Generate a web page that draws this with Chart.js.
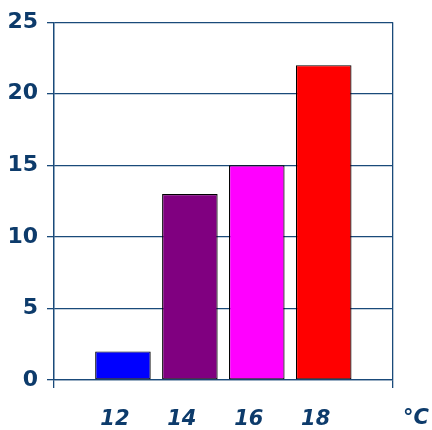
<!DOCTYPE html>
<html>
<head>
<meta charset="utf-8">
<script src="https://cdn.jsdelivr.net/npm/chart.js@4"></script>
<style>
  html, body { margin: 0; padding: 0; background: #fff; }
  #wrap { width: 432px; height: 430px; }
</style>
</head>
<body>
<div id="wrap"><canvas id="chart" width="432" height="430"></canvas></div>
<script>
// values
const temperatures = [12, 14, 16, 18];
const counts = [2, 13, 15, 22];
const barColors = ["#0000ff", "#800080", "#ff00ff", "#ff0000"];
const yTicks = [0, 5, 10, 15, 20, 25];
const unitLabel = "°C";

const X_MIN = 9.94;
const X_MAX = 20.07;
const AXIS_COLOR = "#1a4a7a";
const TEXT_COLOR = "#0d3b6b";

// unit label sits to the right of the plot, past the axis end
const unitLabelPlugin = {
  id: "unitLabel",
  afterDraw(chart) {
    const { ctx, scales } = chart;
    const x = scales.x;
    ctx.save();
    ctx.font = "italic bold 21px 'DejaVu Sans'";
    ctx.fillStyle = TEXT_COLOR;
    ctx.textAlign = "center";
    ctx.textBaseline = "middle";
    ctx.fillText(unitLabel, x.right + 23, 419);
    ctx.restore();
  },
};

new Chart(document.getElementById("chart"), {
  type: "bar",
  data: {
    datasets: [
      {
        data: temperatures.map((t, i) => ({ x: t, y: counts[i] })),
        backgroundColor: barColors,
        borderColor: "#000000",
        borderWidth: 1.2,
        borderSkipped: false,
        categoryPercentage: 1,
        barPercentage: 0.83,
      },
    ],
  },
  options: {
    responsive: false,
    animation: false,
    layout: { padding: { top: 20, right: 39, bottom: 0, left: 0 } },
    plugins: {
      legend: { display: false },
      tooltip: { enabled: false },
    },
    scales: {
      x: {
        type: "linear",
        offset: false,
        bounds: "data",
        min: X_MIN,
        max: X_MAX,
        afterBuildTicks: (scale) => {
          scale.ticks = [X_MIN, ...temperatures, X_MAX].map((v) => ({ value: v }));
        },
        afterFit: (scale) => {
          scale.height = 50;
        },
        ticks: {
          autoSkip: false,
          maxRotation: 0,
          padding: 19,
          labelOffset: -8,
          color: TEXT_COLOR,
          font: { family: "'DejaVu Sans'", size: 21, style: "italic", weight: "bold" },
          callback: (v) => (temperatures.includes(v) ? String(v) : ""),
        },
        grid: {
          offset: false,
          color: (ctx) =>
            ctx.tick && (ctx.tick.value === X_MIN || ctx.tick.value === X_MAX) ? AXIS_COLOR : "rgba(0,0,0,0)",
          lineWidth: 1.3,
          tickLength: 8,
        },
        border: { color: AXIS_COLOR, width: 1.3 },
      },
      y: {
        min: 0,
        max: 25,
        afterBuildTicks: (scale) => {
          scale.ticks = yTicks.map((v) => ({ value: v }));
        },
        afterFit: (scale) => {
          scale.width = 54;
        },
        ticks: {
          padding: 9,
          color: TEXT_COLOR,
          font: { family: "'DejaVu Sans'", size: 22, weight: "bold" },
        },
        grid: { color: AXIS_COLOR, lineWidth: 1.3, tickLength: 7 },
        border: { color: AXIS_COLOR, width: 1.3 },
      },
    },
  },
  plugins: [unitLabelPlugin],
});
</script>
</body>
</html>
